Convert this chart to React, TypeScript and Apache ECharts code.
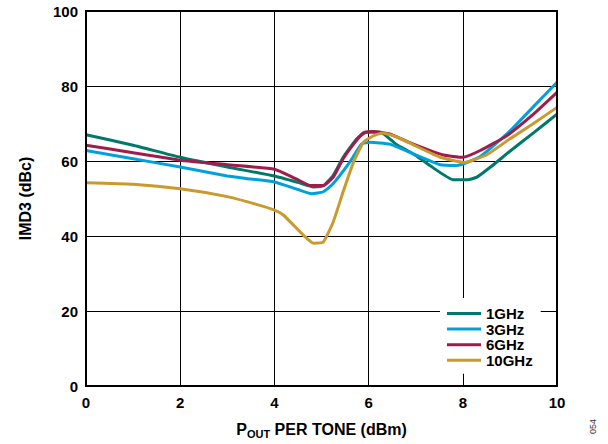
import React, { useEffect, useRef } from "react";
import * as echarts from "echarts";

const seriesNames = ["1GHz", "3GHz", "6GHz", "10GHz"];
const seriesColors = ["#00796b", "#00a0dc", "#a01c4a", "#c99a2e"];

const x1GHz = [0, 1, 2, 3, 4, 4.5, 4.83, 5.04, 5.25, 5.46, 5.75, 5.95, 6.25, 6.6, 7.0, 7.3, 7.8, 8.1, 8.3, 8.65, 9.0, 9.5, 10];
const y1GHz = [67, 64.2, 61, 58.4, 56, 54.3, 53.1, 53.4, 56.2, 61, 65.9, 67.7, 67.7, 64.3, 61.5, 58.8, 55, 55, 55.7, 59, 62.6, 67.5, 72.5];

const x3GHz = [0, 1, 2, 3, 3.5, 4, 4.5, 4.79, 5.04, 5.25, 5.6, 5.85, 6.03, 6.45, 6.95, 7.52, 7.87, 8.37, 9.0, 9.5, 10];
const y3GHz = [62.8, 60.6, 58.4, 56, 55.2, 54.4, 52.4, 51.3, 51.8, 54, 59.7, 64.5, 65, 64.5, 61.9, 59, 58.8, 61.2, 68, 74.5, 81];

const x6GHz = [0, 1, 2, 3, 4, 4.45, 4.76, 5.04, 5.25, 5.46, 5.68, 5.89, 6.1, 6.45, 6.95, 7.59, 8.0, 8.37, 8.93, 9.5, 10];
const y6GHz = [64.2, 62.2, 60.2, 59, 57.8, 55.3, 53.5, 53.5, 55.7, 60.6, 64.5, 67.5, 67.9, 67.2, 64.5, 61.6, 61, 62.8, 66.7, 72.5, 78.3];

const x10GHz = [0, 1, 2, 3, 3.6, 4, 4.19, 4.61, 4.83, 5.04, 5.25, 5.46, 5.68, 5.89, 6.1, 6.3, 6.6, 7.0, 7.52, 8.03, 8.5, 9.0, 9.5, 10];
const y10GHz = [54.2, 53.8, 52.6, 50.5, 48.5, 46.9, 45.6, 40.3, 38.1, 38.4, 43.8, 51.8, 59.7, 65, 66.7, 67.5, 66.4, 64, 61, 59.6, 61.6, 65.9, 70, 74.3];

const xTicks = [0, 2, 4, 6, 8, 10];
const yTicks = [0, 20, 40, 60, 80, 100];

const seriesX = [x1GHz, x3GHz, x6GHz, x10GHz];
const seriesY = [y1GHz, y3GHz, y6GHz, y10GHz];

const FONT = "'Liberation Sans', Arial, Helvetica, sans-serif";

export default function App() {
  const ref = useRef<HTMLDivElement>(null);
  useEffect(() => {
    if (!ref.current) return;
    const chart = echarts.init(ref.current, undefined, { renderer: "svg" });
    const series = seriesNames.map((name, i) => ({
      name,
      type: "line",
      data: seriesX[i].map((x, j) => [x, seriesY[i][j]]),
      showSymbol: false,
      smooth: 0.15,
      lineStyle: { width: 3, color: seriesColors[i] },
      itemStyle: { color: seriesColors[i] },
      z: 3,
    }));
    chart.setOption({
      animation: false,
      backgroundColor: "#fff",
      textStyle: { fontFamily: FONT },
      grid: {
        left: 86,
        right: 51,
        top: 11,
        bottom: 54,
        show: true,
        borderColor: "#000",
        borderWidth: 2,
        z: 10,
      },
      legend: {
        data: seriesNames,
        orient: "vertical",
        left: 440,
        top: 298,
        backgroundColor: "#fff",
        padding: [8, 8, 6, 7],
        itemGap: 0.6,
        itemWidth: 34,
        itemHeight: 3,
        icon: "rect",
        textStyle: {
          fontFamily: FONT,
          fontWeight: "bold",
          fontSize: 15,
          color: "#000",
          lineHeight: 14,
        },
        z: 5,
      },
      xAxis: {
        type: "value",
        min: 0,
        max: 10,
        interval: 2,
        axisLine: { show: true, lineStyle: { color: "#000", width: 2 } },
        axisTick: { show: false },
        splitLine: { show: true, lineStyle: { color: "#000", width: 1 } },
        axisLabel: {
          fontFamily: FONT,
          fontWeight: "bold",
          fontSize: 15,
          color: "#000",
          margin: 9,
          formatter: (v: number) => (xTicks.includes(v) ? String(v) : ""),
        },
        name: "{b|P}{s|OUT}{b| PER TONE (dBm)}",
        nameLocation: "middle",
        nameGap: 33,
        nameTextStyle: {
          rich: {
            b: { fontFamily: FONT, fontWeight: "bold", fontSize: 16, color: "#000" },
            s: {
              fontFamily: FONT,
              fontWeight: "bold",
              fontSize: 11,
              color: "#000",
              verticalAlign: "top",
              padding: [9, 0, 0, 0],
            },
          },
        },
      },
      yAxis: {
        type: "value",
        min: 0,
        max: 100,
        interval: 20,
        axisLine: { show: true, lineStyle: { color: "#000", width: 2 } },
        axisTick: { show: false },
        splitLine: { show: true, lineStyle: { color: "#000", width: 1 } },
        axisLabel: {
          fontFamily: FONT,
          fontWeight: "bold",
          fontSize: 15,
          color: "#000",
          margin: 8,
          formatter: (v: number) => (yTicks.includes(v) ? String(v) : ""),
        },
        name: "IMD3 (dBc)",
        nameLocation: "middle",
        nameGap: 53,
        nameRotate: 90,
        nameTextStyle: {
          fontFamily: FONT,
          fontWeight: "bold",
          fontSize: 16,
          color: "#000",
        },
      },
      graphic: [
        {
          type: "text",
          x: 588,
          y: 434,
          rotation: Math.PI / 2,
          style: {
            text: "054",
            fontFamily: FONT,
            fontSize: 9,
            fill: "#333",
            textAlign: "left",
            textVerticalAlign: "top",
          },
        },
      ],
      series,
    });
    return () => chart.dispose();
  }, []);
  return (
    <div
      ref={ref}
      style={{ position: "fixed", left: 0, top: 0, width: 608, height: 444 }}
    />
  );
}
